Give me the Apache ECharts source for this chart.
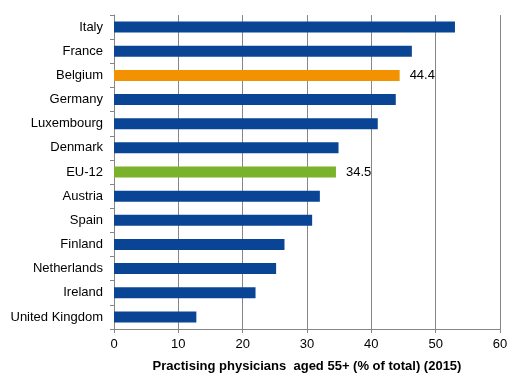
<!DOCTYPE html>
<html><head><meta charset="utf-8">
<script src="https://cdn.jsdelivr.net/npm/echarts@6/dist/echarts.min.js"></script>
<style>html,body{margin:0;padding:0;background:#fff}#c{width:531px;height:388px}</style>
</head><body><div id="c"></div>
<script>
const categories = ["Italy","France","Belgium","Germany","Luxembourg","Denmark","EU-12","Austria","Spain","Finland","Netherlands","Ireland","United Kingdom"];
const values = [53.0,46.3,44.4,43.8,41.0,34.9,34.5,32.0,30.8,26.5,25.2,22.0,12.8];
const labelled = ["Belgium","EU-12"];
const xTicks = [0,10,20,30,40,50,60];
const axisTitle = "Practising physicians  aged 55+ (% of total) (2015)";

const colorFor = c => c === "Belgium" ? "#f39200" : (c === "EU-12" ? "#7ab32b" : "#0a4595");
const chart = echarts.init(document.getElementById('c'));
chart.setOption({
  animation: false,
  grid: {left: 114, right: 31, top: 15, bottom: 59, containLabel: false},
  xAxis: {
    type: 'value', min: xTicks[0], max: xTicks[xTicks.length-1], interval: 10,
    axisLine: {show: true, lineStyle: {color: '#868686'}},
    axisTick: {show: true, length: 4, lineStyle: {color: '#868686'}},
    splitLine: {show: true, lineStyle: {color: '#868686', width: 1}},
    axisLabel: {color: '#000', fontFamily: 'Liberation Sans, Arial', fontSize: 13, margin: 9},
    name: axisTitle, nameLocation: 'middle', nameGap: 31,
    nameTextStyle: {color: '#000', fontFamily: 'Liberation Sans, Arial', fontSize: 13, fontWeight: 'bold'}
  },
  yAxis: {
    type: 'category', data: categories, inverse: true,
    axisLine: {show: true, lineStyle: {color: '#868686'}},
    axisTick: {show: true, length: 4, lineStyle: {color: '#868686'}},
    axisLabel: {color: '#000', fontFamily: 'Liberation Sans, Arial', fontSize: 13, margin: 11}
  },
  series: [{
    type: 'bar', barWidth: 11,
    data: categories.map((c, i) => ({
      value: values[i],
      itemStyle: {color: colorFor(c)},
      label: {show: labelled.includes(c), position: 'right', distance: 10, color: '#000',
              fontFamily: 'Liberation Sans, Arial', fontSize: 13, formatter: p => p.value.toFixed(1)}
    }))
  }]
});
</script></body></html>
